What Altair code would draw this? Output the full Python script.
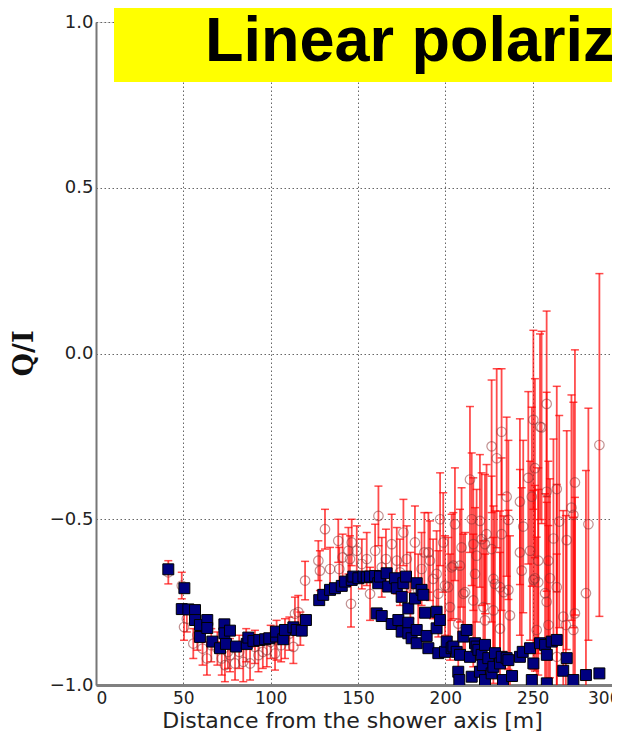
import altair as alt
import pandas as pd

# ---- red open circles with error bars (Q/I, measured) ----
red_x = [41.4, 49.1, 50.4, 52.0, 55.7, 58.0, 61.0, 63.5, 66.0, 69.5,
         72.0, 73.8, 75.5, 76.7, 79.6, 82.0, 84.3, 86.0, 88.2, 91.0,
         93.0, 95.5, 97.8, 100.0, 102.5, 103.4, 106.0, 108.2, 110.7, 113.0,
         113.9, 115.8, 117.0, 119.7, 127.3, 128.2, 131.1, 134.0, 138.7, 139.3,
         141.2, 144.5, 145.4, 146.0, 146.4, 149.3, 152.2, 155.0, 156.9, 159.8,
         161.7, 163.6, 166.0, 169.3, 172.2, 174.0, 176.0, 177.9, 180.0, 182.6,
         184.5, 186.4, 188.0, 190.3, 191.2, 193.0, 195.0, 196.0, 197.0, 198.8,
         199.8, 201.7, 202.7, 203.6, 204.6, 205.5, 207.4, 208.4, 209.3, 210.3,
         211.3, 214.1, 215.1, 216.0, 216.0, 217.0, 217.9, 219.8, 220.8, 221.8,
         222.7, 222.7, 223.6, 226.5, 226.5, 227.5, 227.5, 228.4, 229.4, 231.3,
         231.3, 232.2, 232.2, 233.4, 235.1, 236.1, 236.1, 237.0, 242.7, 242.7,
         243.7, 244.6, 247.5, 248.5, 249.5, 250.4, 250.4, 251.3, 251.3, 252.3,
         253.2, 253.2, 254.2, 255.1, 257.1, 258.0, 258.0, 258.0, 259.0, 259.0,
         259.9, 261.9, 263.8, 263.8, 263.8, 265.2, 267.5, 269.0, 269.5, 272.2,
         273.3, 273.3, 274.2, 274.2, 280.5, 281.9, 288.2]
red_y = [-0.66, -0.70, -0.825, -0.80, -0.875, -0.85, -0.89, -0.92, -0.88, -0.89,
         -0.92, -0.94, -0.90, -0.91, -0.935, -0.90, -0.93, -0.88, -0.935, -0.885,
         -0.91, -0.90, -0.895, -0.87, -0.905, -0.865, -0.88, -0.86, -0.845, -0.885,
         -0.785, -0.78, -0.83, -0.685, -0.625, -0.655, -0.53, -0.65, -0.565, -0.65,
         -0.615, -0.595, -0.62, -0.755, -0.57, -0.595, -0.635, -0.62, -0.725, -0.595,
         -0.49, -0.645, -0.62, -0.575, -0.625, -0.66, -0.54, -0.62, -0.70, -0.57,
         -0.715, -0.65, -0.60, -0.60, -0.625, -0.68, -0.665, -0.725, -0.50, -0.57,
         -0.70, -0.705, -0.765, -0.645, -0.64, -0.515, -0.815, -0.64, -0.585, -0.725,
         -0.72, -0.38, -0.50, -0.575, -0.745, -0.665, -0.61, -0.505, -0.56, -0.765,
         -0.575, -0.805, -0.545, -0.28, -0.59, -0.68, -0.775, -0.695, -0.316, -0.705,
         -0.83, -0.236, -0.545, -0.72, -0.432, -0.502, -0.713, -0.79, -0.447, -0.60,
         -0.655, -0.522, -0.375, -0.595, -0.432, -0.20, -0.683, -0.346, -0.678, -0.834,
         -0.625, -0.69, -0.221, -0.223, -0.723, -0.152, -0.417, -0.749, -0.625, -0.819,
         -0.678, -0.558, -0.409, -0.705, -0.915, -0.507, -0.794, -0.819, -0.563, -0.465,
         -0.487, -0.834, -0.389, -0.784, -0.723, -0.515, -0.276]
red_err = [0.035, 0.04, 0.04, 0.04, 0.045, 0.045, 0.05, 0.05, 0.05, 0.05,
           0.05, 0.05, 0.05, 0.05, 0.05, 0.05, 0.06, 0.05, 0.05, 0.05,
           0.05, 0.05, 0.05, 0.05, 0.05, 0.06, 0.05, 0.06, 0.05, 0.05,
           0.05, 0.05, 0.05, 0.058, 0.06, 0.06, 0.06, 0.065, 0.065, 0.065,
           0.07, 0.07, 0.07, 0.07, 0.07, 0.075, 0.075, 0.08, 0.08, 0.08,
           0.09, 0.09, 0.09, 0.09, 0.10, 0.10, 0.10, 0.10, 0.10, 0.11,
           0.11, 0.11, 0.12, 0.12, 0.12, 0.12, 0.13, 0.13, 0.14, 0.15,
           0.15, 0.15, 0.16, 0.16, 0.16, 0.17, 0.17, 0.17, 0.18, 0.18,
           0.18, 0.22, 0.20, 0.20, 0.20, 0.20, 0.20, 0.20, 0.20, 0.20,
           0.21, 0.20, 0.21, 0.20, 0.22, 0.22, 0.22, 0.22, 0.27, 0.23,
           0.23, 0.19, 0.23, 0.23, 0.24, 0.24, 0.24, 0.24, 0.25, 0.25,
           0.25, 0.26, 0.26, 0.27, 0.27, 0.27, 0.27, 0.27, 0.28, 0.28,
           0.28, 0.28, 0.28, 0.29, 0.30, 0.28, 0.30, 0.30, 0.30, 0.30,
           0.30, 0.30, 0.31, 0.31, 0.31, 0.32, 0.32, 0.33, 0.33, 0.34,
           0.34, 0.34, 0.40, 0.35, 0.37, 0.35, 0.517]

# ---- blue filled squares ----
blue_x = [41.4, 49.1, 50.6, 52.9, 56.7, 56.7, 59.5, 59.5, 63.7, 63.7,
          66.6, 71.0, 73.5, 73.5, 74.4, 76.7, 80.2, 86.3, 87.2, 90.1,
          93.5, 96.8, 99.2, 103.1, 103.1, 107.2, 108.2, 113.0, 114.9, 117.8,
          120.2, 127.8, 130.1, 134.0, 136.8, 140.7, 142.6, 146.4, 147.3, 150.2,
          153.1, 155.0, 156.9, 159.8, 160.7, 161.6, 162.6, 163.6, 166.4, 167.3,
          169.3, 171.2, 172.2, 173.1, 175.0, 175.0, 176.0, 177.5, 178.8, 178.8,
          178.8, 180.7, 182.6, 183.6, 183.6, 183.6, 186.4, 187.4, 188.4, 189.3,
          190.3, 195.0, 195.0, 196.0, 196.9, 199.8, 200.8, 203.6, 204.6, 206.5,
          207.4, 208.0, 208.4, 210.3, 212.2, 214.1, 215.1, 217.0, 217.9, 218.9,
          219.8, 220.8, 221.4, 222.7, 222.7, 224.6, 226.5, 227.5, 228.4, 231.3,
          232.3, 233.0, 235.1, 236.1, 238.2, 242.7, 244.3, 248.5, 249.5, 250.4,
          254.2, 257.1, 258.1, 258.1, 260.9, 263.8, 267.5, 269.5, 273.3, 280.5,
          288.2]
blue_y = [-0.651, -0.771, -0.708, -0.772, -0.774, -0.804, -0.819, -0.855, -0.804, -0.828,
          -0.869, -0.889, -0.817, -0.844, -0.876, -0.836, -0.884, -0.876, -0.857, -0.867,
          -0.864, -0.862, -0.859, -0.854, -0.839, -0.862, -0.834, -0.826, -0.834, -0.836,
          -0.804, -0.744, -0.728, -0.713, -0.708, -0.701, -0.688, -0.683, -0.673, -0.678,
          -0.673, -0.675, -0.673, -0.671, -0.784, -0.693, -0.673, -0.792, -0.663, -0.703,
          -0.816, -0.678, -0.708, -0.804, -0.734, -0.839, -0.693, -0.673, -0.769, -0.812,
          -0.844, -0.859, -0.739, -0.693, -0.834, -0.874, -0.713, -0.728, -0.782, -0.852,
          -0.889, -0.779, -0.829, -0.904, -0.804, -0.900, -0.869, -0.889, -0.884, -0.900,
          -0.960, -0.985, -0.909, -0.854, -0.834, -0.915, -0.975, -0.874, -0.884, -0.894,
          -0.960, -0.909, -0.940, -0.879, -0.985, -0.919, -0.965, -0.945, -0.904, -0.935,
          -0.915, -0.985, -0.919, -0.925, -0.973, -0.915, -0.900, -0.889, -0.985, -0.935,
          -0.874, -0.879, -0.909, -0.995, -0.869, -0.864, -0.957, -0.919, -0.985, -0.970,
          -0.965]

x_ticks = [0, 50, 100, 150, 200, 250, 300]
y_ticks = [-1.0, -0.5, 0.0, 0.5, 1.0]
title_text = "Linear polarization"

red = pd.DataFrame({"x": red_x, "y": red_y, "err": red_err})
red["lo"] = red["y"] - red["err"]
red["hi"] = red["y"] + red["err"]
blue = pd.DataFrame({"x": blue_x, "y": blue_y})

W, H = 524, 663
FONT = "DejaVu Sans"

xs = alt.Scale(domain=[0, 300], nice=False, zero=False)
ys = alt.Scale(domain=[-1, 1], nice=False, zero=False)

x_axis = alt.Axis(values=x_ticks, format="d", title="Distance from the shower axis [m]",
                  grid=True, ticks=False, labelPadding=5, labelFontSize=17,
                  labelFont=FONT, labelColor="#222", titleFont=FONT, titleFontSize=22,
                  titleFontWeight="normal", titleColor="#222", titleBaseline="alphabetic",
                  titleX=256, titleY=42, domainColor="#808080", domainWidth=3,
                  gridColor="#555", gridDash=[1.5, 2.5], gridWidth=0.9)
y_axis = alt.Axis(values=y_ticks, format=".1f", title="Q/I",
                  grid=True, ticks=False, labelPadding=3, labelFontSize=18,
                  labelFont=FONT, labelColor="#222", titleFont="DejaVu Serif",
                  titleFontSize=27, titleFontWeight="bold", titleColor="#111",
                  titleX=-58, titleY=331, domainColor="#777", domainWidth=2,
                  gridColor="#555", gridDash=[1.5, 2.5], gridWidth=0.9)

base_red = alt.Chart(red)
bars = base_red.mark_rule(color="#ff0000", opacity=0.7, strokeWidth=1.8, clip=True).encode(
    x=alt.X("x:Q", scale=xs, axis=x_axis),
    y=alt.Y("lo:Q", scale=ys, axis=y_axis),
    y2="hi:Q",
)
cap_lo = base_red.mark_tick(orient="horizontal", color="#ff0000", opacity=0.7,
                            size=8, thickness=1.5, clip=True).encode(
    x=alt.X("x:Q", scale=xs), y=alt.Y("lo:Q", scale=ys))
cap_hi = base_red.mark_tick(orient="horizontal", color="#ff0000", opacity=0.7,
                            size=8, thickness=1.5, clip=True).encode(
    x=alt.X("x:Q", scale=xs), y=alt.Y("hi:Q", scale=ys))
circles = base_red.mark_point(shape="circle", filled=False, size=90, stroke="#8b3030",
                              strokeOpacity=0.75, strokeWidth=1.2, clip=True).encode(
    x=alt.X("x:Q", scale=xs), y=alt.Y("y:Q", scale=ys))

squares = alt.Chart(blue).mark_point(shape="square", filled=True, size=120, fill="#00007f",
                                     fillOpacity=1, stroke="#000", strokeWidth=1, clip=True).encode(
    x=alt.X("x:Q", scale=xs), y=alt.Y("y:Q", scale=ys))

tdf = pd.DataFrame({"t": [title_text]})
box = alt.Chart(tdf).mark_rect(color="#ffff00").encode(
    x=alt.value(18), x2=alt.value(600), y=alt.value(-14), y2=alt.value(60))
title = alt.Chart(tdf).mark_text(align="left", baseline="alphabetic", font="Liberation Sans",
                                 fontSize=63, fontWeight="bold", color="#000").encode(
    x=alt.value(109), y=alt.value(39), text="t:N")

chart = alt.layer(bars, cap_lo, cap_hi, circles, squares, box, title).properties(
    width=W, height=H,
    autosize=alt.AutoSizeParams(type="none"),
    padding={"left": 88, "top": 14, "right": -8, "bottom": 46},
).configure_view(stroke="#555", strokeWidth=1.5).configure(background="white")

chart.save("out.html", embed_options={"renderer": "svg", "actions": False})
